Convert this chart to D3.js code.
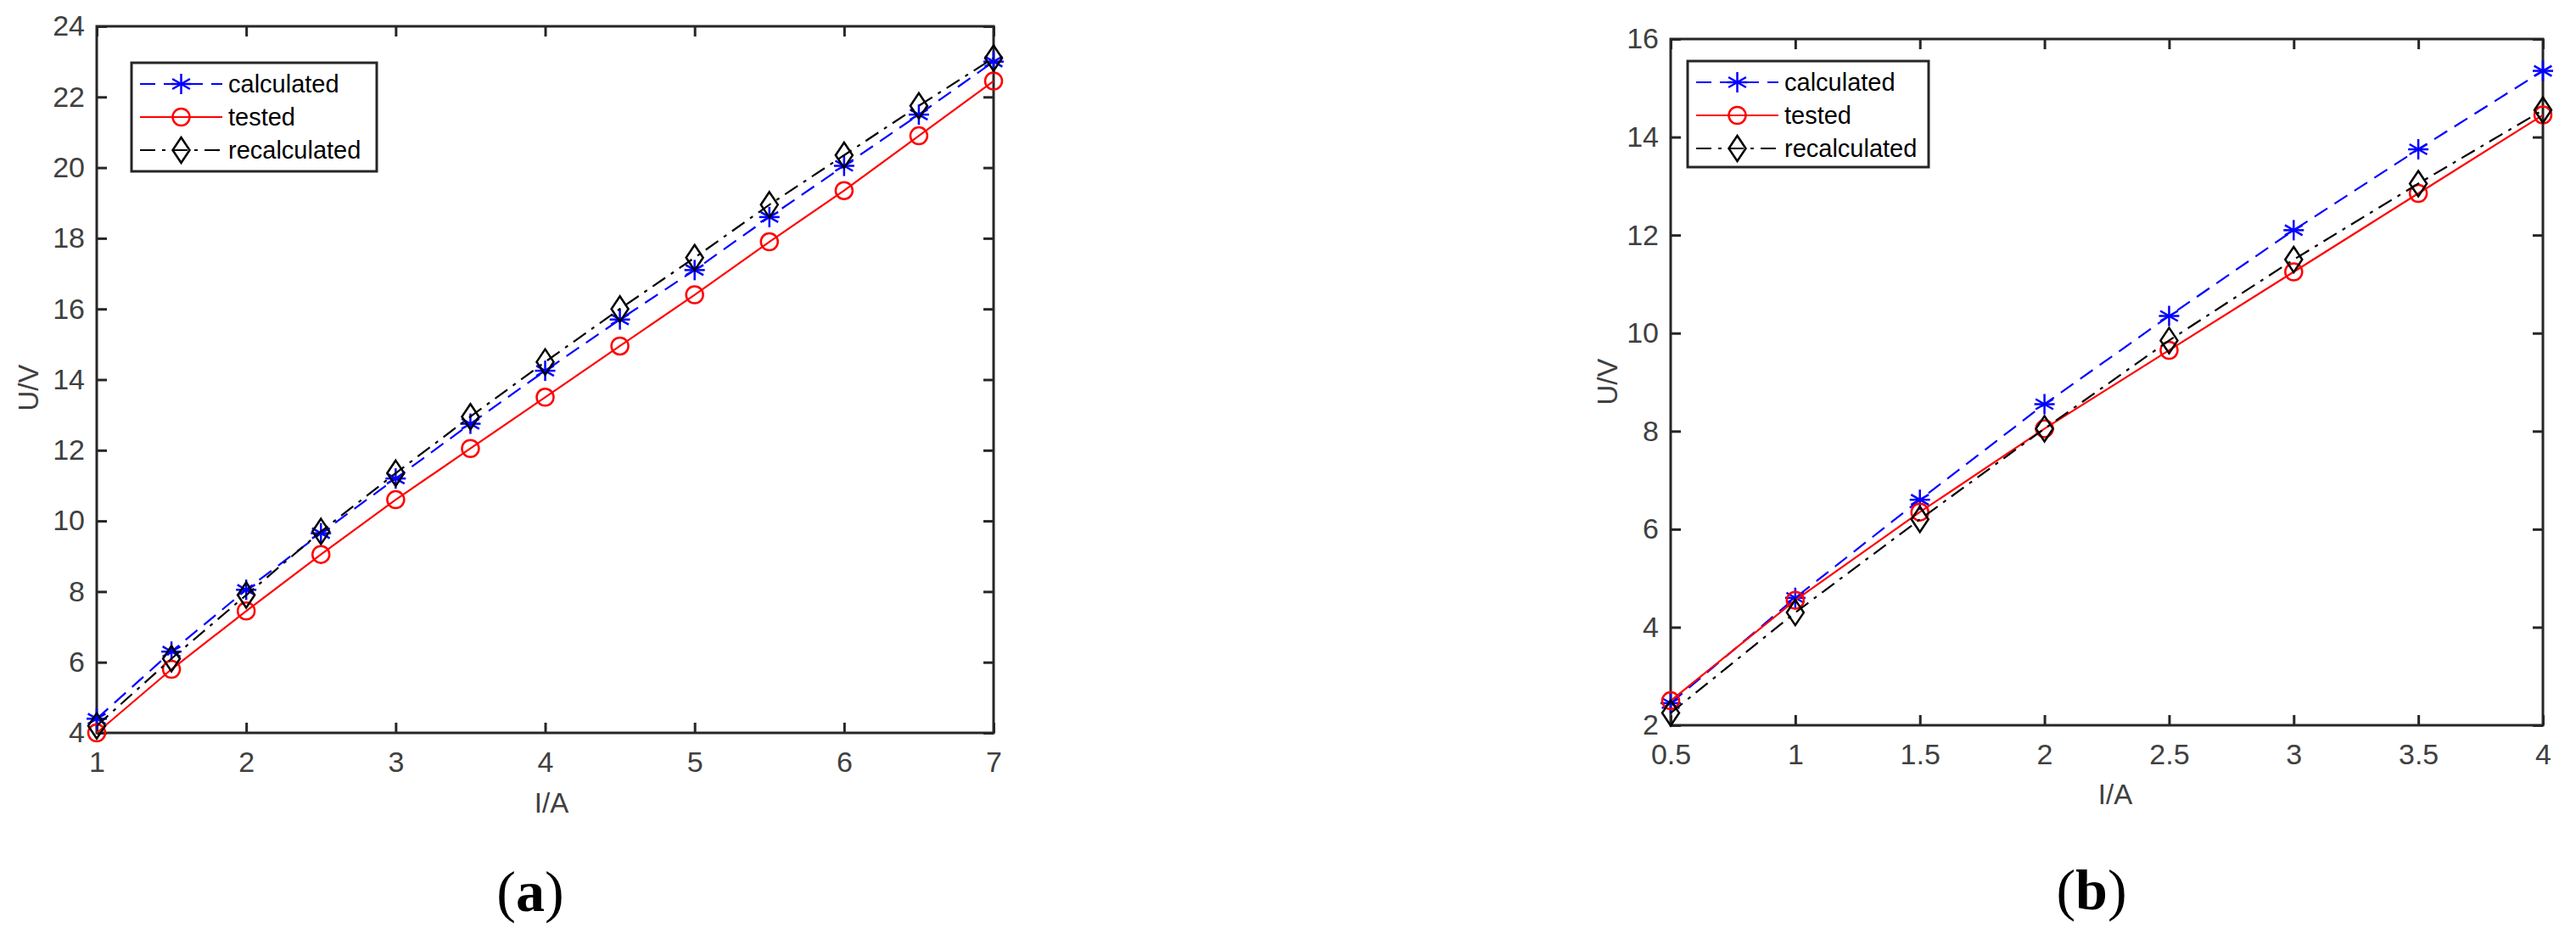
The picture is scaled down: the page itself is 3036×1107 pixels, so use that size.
<!DOCTYPE html>
<html>
<head>
<meta charset="utf-8">
<script src="https://cdn.jsdelivr.net/npm/d3@7"></script>
<style>
  body { margin: 0; background: #fff; }
  svg { display: block; font-family: "Liberation Sans", Arial, sans-serif; }
</style>
</head>
<body>
<div id="chart"></div>
<script>
const width = 3036, height = 1107;

// Panel (a) data
const xA = [1, 1.5, 2, 2.5, 3, 3.5, 4, 4.5, 5, 5.5, 6, 6.5, 7];
const calcA = [4.4, 6.3, 8.05, 9.65, 11.2, 12.75, 14.25, 15.7, 17.1, 18.6, 20.05, 21.5, 23.0];
const testA = [4.0, 5.8, 7.45, 9.05, 10.6, 12.05, 13.5, 14.95, 16.4, 17.9, 19.35, 20.9, 22.45];
const recalcA = [4.2, 6.1, 7.9, 9.7, 11.35, 12.95, 14.5, 16.0, 17.45, 18.95, 20.35, 21.75, 23.1];
const xTicksA = [1, 2, 3, 4, 5, 6, 7];
const yTicksA = [4, 6, 8, 10, 12, 14, 16, 18, 20, 22, 24];

// Panel (b) data
const xB = [0.5, 1, 1.5, 2, 2.5, 3, 3.5, 4];
const calcB = [2.45, 4.6, 6.6, 8.55, 10.35, 12.1, 13.75, 15.35];
const testB = [2.5, 4.55, 6.35, 8.05, 9.65, 11.25, 12.85, 14.45];
const recalcB = [2.25, 4.3, 6.2, 8.05, 9.85, 11.5, 13.05, 14.55];
const xTicksB = [0.5, 1, 1.5, 2, 2.5, 3, 3.5, 4];
const yTicksB = [2, 4, 6, 8, 10, 12, 14, 16];

const seriesNames = ["calculated", "tested", "recalculated"];

const styles = [
  { color: "#0000ff", dash: "18,10", marker: "star" },
  { color: "#ff0000", dash: null, marker: "circle" },
  { color: "#000000", dash: "18,8,4,8", marker: "diamond" }
];

const svg = d3.select("#chart").append("svg")
  .attr("width", width).attr("height", height);

function drawMarker(g, type, x, y, color) {
  if (type === "star") {
    const r = 12;
    const p = g.append("g").attr("stroke", color).attr("stroke-width", 2.5);
    [0, 60, 120].forEach(a => {
      const rad = a * Math.PI / 180;
      p.append("line")
        .attr("x1", x - r * Math.sin(rad)).attr("y1", y - r * Math.cos(rad))
        .attr("x2", x + r * Math.sin(rad)).attr("y2", y + r * Math.cos(rad));
    });
    p.append("line").attr("x1", x - r).attr("x2", x + r).attr("y1", y).attr("y2", y);
  } else if (type === "circle") {
    g.append("circle").attr("cx", x).attr("cy", y).attr("r", 10)
      .attr("fill", "none").attr("stroke", color).attr("stroke-width", 2.5);
  } else {
    g.append("path")
      .attr("d", `M${x},${y - 15}L${x + 10},${y}L${x},${y + 15}L${x - 10},${y}Z`)
      .attr("fill", "none").attr("stroke", color).attr("stroke-width", 2.5);
  }
}

function panel(cfg) {
  const { left, right, top, bottom, xDom, yDom, xs, ys, xTicks, yTicks, legend, xFmt, label, xLab, yLab, lab } = cfg;
  const x = d3.scaleLinear().domain(xDom).range([left, right]);
  const y = d3.scaleLinear().domain(yDom).range([bottom, top]);
  const g = svg.append("g");
  const axisColor = "#262626";
  const tickLen = 12;

  // ticks (inward, all four sides)
  const axes = [
    [d3.axisBottom(x).tickValues(xTicks).tickFormat(xFmt).tickSize(-tickLen).tickPadding(22), `translate(0,${bottom})`],
    [d3.axisTop(x).tickValues(xTicks).tickSize(-tickLen).tickFormat(""), `translate(0,${top})`],
    [d3.axisLeft(y).tickValues(yTicks).tickSize(-tickLen).tickPadding(14), `translate(${left},0)`],
    [d3.axisRight(y).tickValues(yTicks).tickSize(-tickLen).tickFormat(""), `translate(${right},0)`]
  ];
  axes.forEach(([ax, tr]) => {
    const a = g.append("g").attr("transform", tr).call(ax);
    a.select(".domain").remove();
    a.selectAll("line").attr("stroke", axisColor).attr("stroke-width", 3);
    a.selectAll("text").attr("fill", "#404040").style("font-size", "34px");
  });
  g.append("rect").attr("x", left).attr("y", top)
    .attr("width", right - left).attr("height", bottom - top)
    .attr("fill", "none").attr("stroke", axisColor).attr("stroke-width", 3);

  // series
  ys.forEach((vals, i) => {
    const st = styles[i];
    const line = d3.line().x((d, j) => x(xs[j])).y(d => y(d));
    g.append("path").datum(vals).attr("d", line)
      .attr("fill", "none").attr("stroke", st.color).attr("stroke-width", 2.2)
      .attr("stroke-dasharray", st.dash);
    vals.forEach((v, j) => drawMarker(g, st.marker, x(xs[j]), y(v), st.color));
  });

  // legend
  const lg = g.append("g");
  lg.append("rect").attr("x", legend.x).attr("y", legend.y)
    .attr("width", legend.w).attr("height", legend.h)
    .attr("fill", "#fff").attr("stroke", axisColor).attr("stroke-width", 3);
  seriesNames.forEach((name, i) => {
    const st = styles[i];
    const cy = legend.y + 25 + i * 39;
    const x0 = legend.x + 10, x1 = legend.x + 107;
    lg.append("line").attr("x1", x0).attr("x2", x1).attr("y1", cy).attr("y2", cy)
      .attr("stroke", st.color).attr("stroke-width", 2.2).attr("stroke-dasharray", st.dash);
    drawMarker(lg, st.marker, (x0 + x1) / 2, cy, st.color);
    lg.append("text").attr("x", legend.x + 114).attr("y", cy + 10)
      .style("font-size", "29px").attr("fill", "#000").text(name);
  });

  // axis labels
  g.append("text").attr("x", xLab[0]).attr("y", xLab[1]).attr("text-anchor", "middle")
    .attr("fill", "#404040").style("font-size", "33px").text("I/A");
  g.append("text").attr("transform", `translate(${yLab[0]},${yLab[1]}) rotate(-90)`)
    .attr("text-anchor", "middle").attr("fill", "#404040").style("font-size", "33px").text("U/V");
  const t = g.append("text").attr("x", lab[0]).attr("y", lab[1]).attr("text-anchor", "middle")
    .style("font-family", "'Liberation Serif', 'DejaVu Serif', serif").style("font-size", "68px");
  t.append("tspan").text("(");
  t.append("tspan").attr("font-weight", "bold").text(label);
  t.append("tspan").text(")");
}

panel({
  left: 114, right: 1171, top: 31, bottom: 864,
  xDom: [1, 7], yDom: [4, 24], xs: xA, ys: [calcA, testA, recalcA],
  xTicks: xTicksA, yTicks: yTicksA, xFmt: d3.format("d"),
  legend: { x: 155, y: 74, w: 289, h: 128 },
  xLab: [650, 958], yLab: [45, 457], lab: [625, 1074], label: "a"
});

panel({
  left: 1969, right: 2997, top: 46, bottom: 855,
  xDom: [0.5, 4], yDom: [2, 16], xs: xB, ys: [calcB, testB, recalcB],
  xTicks: xTicksB, yTicks: yTicksB, xFmt: d => String(d),
  legend: { x: 1989, y: 72, w: 284, h: 125 },
  xLab: [2493, 948], yLab: [1906, 450], lab: [2465, 1072], label: "b"
});
</script>
</body>
</html>
